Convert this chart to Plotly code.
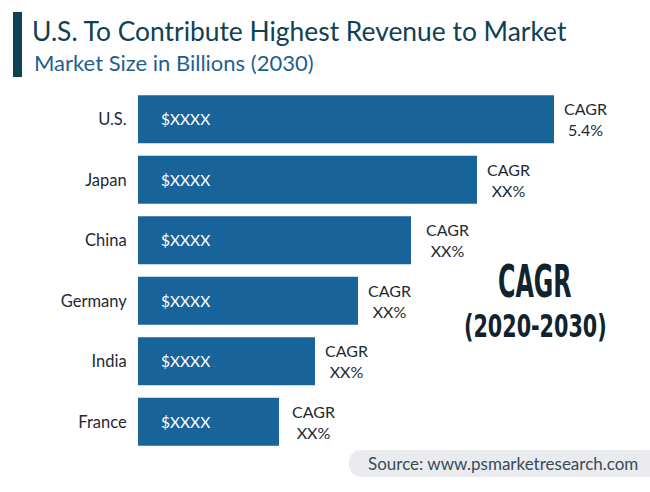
import plotly.graph_objects as go

countries = ["U.S.", "Japan", "China", "Germany", "India", "France"]
market_size = [416, 339, 273, 220, 177, 141]
size_labels = ["$XXXX"] * 6
cagr_labels = ["5.4%", "XX%", "XX%", "XX%", "XX%", "XX%"]

WIDTH = 650
HEIGHT = 492
LEFT = 138
TOP = 89
BOTTOM = 40
FONT = "Lato"
CONDENSED = "DejaVu Sans Condensed"
CAGR_SHIFT = {"China": 36, "France": 34}


def px_x(x):
    return (x - LEFT) / (WIDTH - LEFT)


def px_y(y):
    return 1 - (y - TOP) / (HEIGHT - TOP - BOTTOM)


fig = go.Figure(
    go.Bar(
        x=market_size,
        y=countries,
        orientation="h",
        marker=dict(color="#19639b", line=dict(width=0)),
        width=0.79,
    )
)

for country, size, size_label, cagr in zip(countries, market_size, size_labels, cagr_labels):
    fig.add_annotation(
        x=0, y=country, text=size_label, xanchor="left", xshift=21, showarrow=False,
        font=dict(family=FONT, size=15.5, color="#ffffff"),
    )
    fig.add_annotation(
        x=size, y=country, text=f"CAGR<br>{cagr}", xanchor="center",
        xshift=CAGR_SHIFT.get(country, 31), showarrow=False,
        font=dict(family=FONT, size=16, color="#1c2a33"),
    )

# heading block
fig.add_shape(
    type="rect", xref="paper", yref="paper",
    x0=px_x(13), x1=px_x(22), y0=px_y(77), y1=px_y(12),
    fillcolor="#0f4154", line_width=0,
)
fig.add_annotation(
    xref="paper", yref="paper", x=px_x(30), y=px_y(31), text="U.S. To Contribute Highest Revenue to Market",
    xanchor="left", yanchor="middle", showarrow=False,
    font=dict(family=FONT, size=26.4, color="#0f4154"),
)
fig.add_annotation(
    xref="paper", yref="paper", x=px_x(32), y=px_y(62), text="Market Size in Billions (2030)",
    xanchor="left", yanchor="middle", showarrow=False,
    font=dict(family=FONT, size=22, color="#1f5f8f"),
)

# big CAGR callout
fig.add_annotation(
    xref="paper", yref="paper", x=px_x(535), y=px_y(281), text="<b>CAGR</b>",
    xanchor="center", yanchor="middle", showarrow=False,
    font=dict(family=CONDENSED, size=30, color="#10232e"),
)
fig.add_annotation(
    xref="paper", yref="paper", x=px_x(535), y=px_y(326), text="<b>(2020-2030)</b>",
    xanchor="center", yanchor="middle", showarrow=False,
    font=dict(family=CONDENSED, size=23, color="#10232e"),
)

# source pill
x0, x1, y0, y1 = px_x(349), px_x(650), px_y(477), px_y(450)
bend = px_x(363) - x0
fig.add_shape(
    type="path", xref="paper", yref="paper",
    path=f"M {x1} {y0} L {x0 + bend} {y0} Q {x0} {y0} {x0} {(y0 + y1) / 2} Q {x0} {y1} {x0 + bend} {y1} L {x1} {y1} Z",
    fillcolor="#e9ebee", line_width=0,
)
fig.add_annotation(
    xref="paper", yref="paper", x=px_x(640), y=px_y(463), text="Source: www.psmarketresearch.com",
    xanchor="right", yanchor="middle", showarrow=False,
    font=dict(family=FONT, size=17, color="#3a4a55"),
)

fig.update_layout(
    width=WIDTH,
    height=HEIGHT,
    margin=dict(l=LEFT, r=0, t=TOP, b=BOTTOM),
    paper_bgcolor="#ffffff",
    plot_bgcolor="#ffffff",
    showlegend=False,
    font=dict(family=FONT),
)
fig.update_xaxes(visible=False, range=[0, WIDTH - LEFT])
fig.update_yaxes(
    autorange="reversed",
    showgrid=False,
    zeroline=False,
    showline=False,
    ticks="outside",
    ticklen=7,
    tickcolor="rgba(0,0,0,0)",
    tickfont=dict(family=FONT, size=16.5, color="#1c2a33"),
)

# drop the default body margin, and stretch the callout since no tall condensed font is installed
post_script = """
document.body.style.margin = '0';
var stretch = {'CAGR': [0.88, 1.5], '(2020-2030)': [1.0, 1.4]};
document.querySelectorAll('.annotation-text').forEach(function (el) {
    var s = stretch[el.textContent];
    if (!s) return;
    var b = el.getBBox();
    var cx = b.x + b.width / 2, cy = b.y + b.height / 2;
    el.setAttribute('transform', 'translate(' + cx + ',' + cy + ') scale(' + s[0] + ',' + s[1] + ') translate(' + -cx + ',' + -cy + ')');
});
"""

fig.write_html("out.html", config=dict(displayModeBar=False), post_script=post_script)
